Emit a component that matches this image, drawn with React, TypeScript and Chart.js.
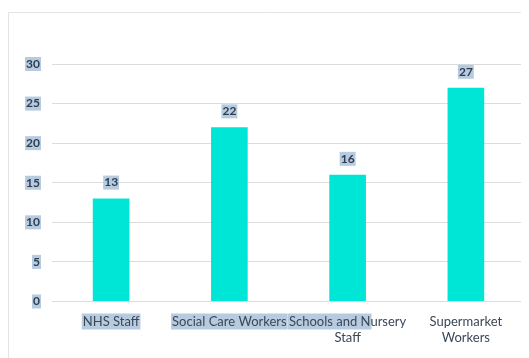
import React, { useEffect, useRef } from "react";
import { Chart, registerables } from "chart.js";

Chart.register(...registerables);

const categories: (string | string[])[] = [
  "NHS Staff",
  "Social Care Workers",
  ["Schools and Nursery", "Staff"],
  ["Supermarket", "Workers"],
];
const values = [13, 22, 16, 27];
const yTicks = [0, 5, 10, 15, 20, 25, 30];
// portion of each first label line that appears highlighted (selected) in the source
const highlightedText = ["NHS Staff", "Social Care Workers", "Schools and N", ""];

const FONT = "Lato, 'Open Sans', sans-serif";
const HL = "#b7cbe0";
const TXT = "#2f3e4f";
const XPAD = 12;
const YPAD = 12;

export default function App() {
  const ref = useRef<HTMLCanvasElement>(null);
  useEffect(() => {
    const canvas = ref.current!;
    const framePlugin = {
      id: "frame",
      beforeDraw(chart: any) {
        const ctx = chart.ctx;
        ctx.save();
        ctx.strokeStyle = "#e4e4e4";
        ctx.lineWidth = 1;
        ctx.beginPath();
        ctx.moveTo(0.5, chart.height);
        ctx.lineTo(0.5, 4.5);
        ctx.lineTo(chart.width, 4.5);
        ctx.stroke();
        // highlight behind x labels
        const xs = chart.scales.x;
        ctx.font = `13px ${FONT}`;
        const lineH = 16;
        const top = xs.top + XPAD;
        categories.forEach((c, i) => {
          const first = Array.isArray(c) ? c[0] : c;
          const hl = highlightedText[i];
          if (!hl) return;
          const cx = xs.getPixelForTick(i);
          const full = ctx.measureText(first).width;
          const w = ctx.measureText(hl).width;
          ctx.fillStyle = HL;
          ctx.fillRect(cx - full / 2 - 1, top, w + 2, lineH);
        });
        // highlight behind y labels
        const ys = chart.scales.y;
        ctx.font = `bold 12px ${FONT}`;
        yTicks.forEach((v) => {
          const t = String(v);
          const w = ctx.measureText(t).width;
          const y = ys.getPixelForValue(v);
          const right = ys.right - YPAD;
          ctx.fillStyle = HL;
          ctx.fillRect(right - w - 1, y - 7, w + 2, 14);
        });
        ctx.restore();
      },
      afterDatasetsDraw(chart: any) {
        const ctx = chart.ctx;
        const meta = chart.getDatasetMeta(0);
        ctx.save();
        ctx.font = `bold 12px ${FONT}`;
        ctx.textAlign = "center";
        ctx.textBaseline = "middle";
        meta.data.forEach((bar: any, i: number) => {
          const t = String(values[i]);
          const w = ctx.measureText(t).width;
          const y = bar.y - 16;
          ctx.fillStyle = HL;
          ctx.fillRect(bar.x - w / 2 - 1, y - 7, w + 2, 14);
          ctx.fillStyle = TXT;
          ctx.fillText(t, bar.x, y);
        });
        ctx.restore();
      },
    };
    const chart = new Chart(canvas, {
      type: "bar",
      data: {
        labels: categories,
        datasets: [
          {
            data: values,
            backgroundColor: "#00E6D6",
            borderWidth: 0,
            categoryPercentage: 1,
            barPercentage: 0.31,
          },
        ],
      },
      options: {
        animation: false,
        responsive: false,
        maintainAspectRatio: false,
        layout: { padding: { top: 56, right: 4, left: 0, bottom: 0 } },
        plugins: { legend: { display: false }, tooltip: { enabled: false } },
        scales: {
          x: {
            grid: { display: false, drawTicks: false },
            border: { display: false },
            ticks: {
              color: "#3b4755",
              font: { family: FONT, size: 13, lineHeight: 1.25 },
              padding: XPAD,
              maxRotation: 0,
              autoSkip: false,
            },
          },
          y: {
            min: 0,
            max: 30,
            afterFit: (s: any) => {
              s.width = 44;
            },
            afterBuildTicks: (s: any) => {
              s.ticks = yTicks.map((v) => ({ value: v }));
            },
            grid: { color: "#dcdcdc", drawTicks: false },
            border: { display: false },
            ticks: {
              color: TXT,
              font: { family: FONT, size: 12, weight: "bold" },
              padding: YPAD,
            },
          },
        },
      },
      plugins: [framePlugin],
    });
    return () => chart.destroy();
  }, []);
  return (
    <div style={{ width: 521, height: 350 }}>
      <canvas ref={ref} width={521} height={350} style={{ display: "block" }} />
    </div>
  );
}
